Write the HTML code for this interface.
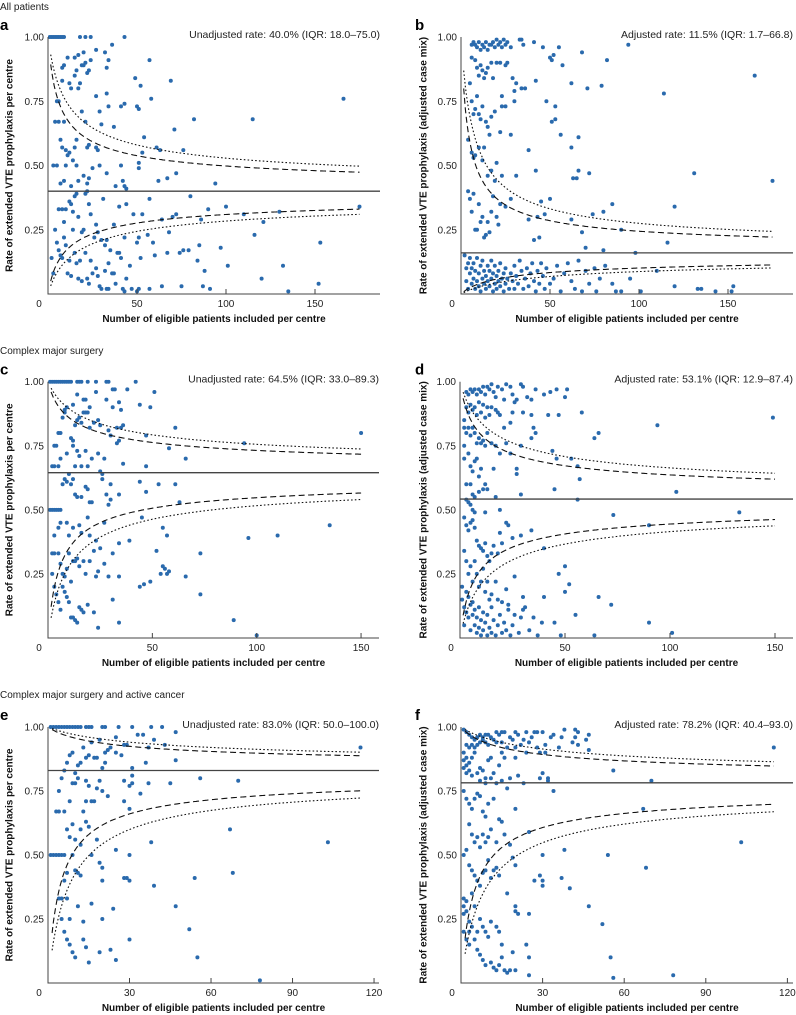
<!DOCTYPE html>
<html><head><meta charset="utf-8">
<style>
html,body{margin:0;padding:0;background:#fff;}
svg{display:block;font-family:"Liberation Sans",sans-serif;}
.tk{font-size:10px;fill:#222;}
.tt{font-size:10px;font-weight:bold;fill:#111;}
.hd{font-size:10px;fill:#222;}
.lt{font-size:15px;font-weight:bold;fill:#000;}
.an{font-size:10.5px;fill:#222;}
</style></head>
<body>
<svg id="fig" width="796" height="1015" viewBox="0 0 796 1015">
<text class="hd" x="0" y="10">All patients</text>
<text class="hd" x="0" y="354">Complex major surgery</text>
<text class="hd" x="0" y="698">Complex major surgery and active cancer</text>
</svg>
<script>
const ptsA=[[1,1],[2,1],[3,1],[4,1],[5,1],[6,1],[7,1],[8,1],[9,1],[18,1],[21,1],[24,1],[43,1],[27,.95],[32,.94],[36,.97],[34,.91],[57,.91],[20,.94],[19,.89],[20,.89],[15,.92],[17,.93],[11,.92],[8,.88],[9,.89],[12,.82],[13,.80],[15,.85],[16,.87],[17,.80],[18,.82],[21,.90],[22,.86],[23,.87],[24,.91],[27,.77],[29,.71],[33,.88],[33,.78],[34,.73],[37,.65],[41,.73],[43,.74],[49,.84],[50,.73],[51,.72],[52,.81],[58,.76],[69,.83],[71,.64],[76,.56],[82,.68],[115,.68],[166,.76],[54,.61],[61,.57],[5,.75],[6,.75],[8,.83],[9,.67],[4,.67],[3,.5],[5,.5],[6,.67],[7,.6],[8,.57],[10,.56],[11,.54],[12,.55],[14,.52],[15,.57],[16,.6],[19,.71],[21,.67],[22,.57],[23,.58],[25,.49],[27,.57],[28,.56],[29,.5],[30,.66],[33,.47],[38,.42],[41,.5],[42,.44],[43,.42],[44,.41],[51,.51],[51,.49],[53,.55],[57,.37],[62,.44],[63,.56],[67,.45],[72,.47],[94,.43],[7,.43],[9,.44],[10,.5],[13,.42],[16,.5],[17,.44],[20,.46],[22,.43],[23,.45],[6,.33],[8,.33],[9,.28],[10,.33],[12,.36],[13,.35],[14,.32],[15,.38],[16,.39],[17,.3],[19,.24],[20,.25],[21,.39],[22,.4],[23,.35],[24,.31],[26,.22],[27,.27],[28,.24],[30,.21],[31,.37],[32,.19],[33,.21],[34,.12],[35,.17],[37,.27],[39,.16],[40,.34],[41,.14],[43,.22],[44,.35],[46,.11],[48,.31],[50,.2],[51,.22],[52,.14],[53,.31],[56,.23],[59,.2],[60,.15],[64,.29],[67,.16],[68,.24],[70,.3],[72,.31],[74,.16],[76,.17],[79,.17],[80,.38],[84,.13],[85,.19],[86,.29],[88,.09],[90,.33],[97,.18],[100,.34],[101,.11],[110,.31],[116,.23],[120,.06],[121,.28],[130,.32],[132,.11],[135,.01],[152,.04],[153,.2],[175,.34],[4,.25],[5,.2],[6,.17],[7,.15],[8,.14],[9,.22],[10,.19],[11,.08],[12,.13],[13,.07],[14,.25],[15,.16],[16,.12],[17,.06],[18,.13],[19,.05],[21,.16],[22,.06],[23,.04],[24,.13],[25,.08],[27,.1],[28,.07],[29,.03],[30,.02],[32,.09],[33,.02],[34,.02],[36,.08],[37,.08],[38,.04],[40,.16],[42,.02],[43,.01],[44,.06],[47,.02],[50,.01],[51,.02],[57,.02],[64,.03],[75,.03],[87,.03],[91,.02],[2,.14],[3,.08]];
const ptsB=[[6,.97],[7,.98],[8,.97],[9,.96],[10,.98],[11,.95],[12,.97],[13,.96],[14,.98],[15,.95],[16,.97],[17,.97],[18,.98],[19,.96],[20,.99],[21,.97],[22,.98],[23,.96],[24,.99],[25,.97],[26,.98],[28,.96],[33,.99],[34,.99],[35,.97],[41,.98],[46,.96],[50,.92],[51,.91],[52,.93],[55,.96],[57,.89],[68,.94],[82,.91],[94,.97],[6,.92],[8,.91],[9,.88],[10,.85],[11,.89],[12,.87],[13,.84],[14,.86],[15,.88],[17,.9],[18,.84],[20,.9],[22,.9],[23,.77],[25,.89],[26,.9],[29,.84],[30,.79],[31,.82],[34,.8],[36,.8],[42,.83],[62,.82],[71,.8],[79,.81],[165,.85],[114,.78],[5,.82],[6,.75],[7,.7],[8,.72],[9,.77],[10,.7],[11,.68],[12,.73],[14,.67],[15,.65],[16,.62],[17,.69],[19,.71],[22,.63],[23,.73],[25,.73],[28,.62],[30,.75],[48,.75],[51,.67],[53,.73],[53,.68],[56,.62],[62,.57],[66,.61],[4,.6],[6,.55],[7,.53],[8,.54],[10,.57],[12,.52],[13,.57],[15,.46],[17,.48],[19,.44],[20,.51],[23,.46],[31,.46],[38,.56],[42,.48],[50,.37],[63,.45],[65,.45],[66,.48],[72,.47],[131,.47],[175,.44],[120,.34],[85,.35],[4,.4],[5,.37],[6,.32],[7,.39],[8,.25],[9,.25],[10,.35],[11,.28],[12,.3],[13,.22],[14,.23],[15,.28],[16,.24],[17,.32],[18,.38],[20,.3],[21,.27],[22,.35],[25,.34],[28,.37],[38,.29],[41,.21],[43,.3],[44,.22],[45,.36],[47,.31],[62,.29],[68,.24],[74,.31],[80,.32],[90,.25],[98,.16],[116,.2],[70,.18],[80,.17],[2,.15],[3,.1],[3,.05],[4,.12],[4,.02],[5,.08],[5,.14],[6,.04],[6,.1],[7,.06],[7,.12],[8,.02],[8,.09],[9,.05],[9,.14],[10,.03],[10,.08],[11,.11],[11,.01],[12,.06],[12,.13],[13,.04],[13,.09],[14,.02],[14,.07],[15,.11],[15,.05],[16,.03],[16,.09],[17,.13],[17,.06],[18,.01],[18,.08],[19,.04],[19,.11],[20,.07],[20,.02],[21,.09],[21,.05],[22,.03],[22,.12],[23,.06],[24,.01],[24,.08],[25,.04],[25,.1],[26,.06],[27,.02],[28,.08],[29,.05],[30,.11],[30,.02],[31,.07],[32,.04],[33,.13],[34,.09],[35,.02],[36,.06],[37,.1],[38,.03],[39,.08],[40,.12],[41,.05],[42,.01],[43,.09],[44,.04],[45,.12],[46,.07],[47,.02],[48,.1],[50,.04],[52,.06],[54,.11],[56,.01],[58,.08],[60,.12],[62,.05],[64,.02],[66,.13],[68,.01],[70,.09],[72,.04],[75,.1],[76,.01],[78,.06],[81,.11],[85,.04],[87,.01],[90,.01],[95,.06],[101,.01],[110,.09],[120,.03],[133,.02],[135,.02],[143,.01],[152,.01],[153,.03]];
const ptsC=[[1,1],[2,1],[3,1],[4,1],[5,1],[6,1],[7,1],[8,1],[9,1],[10,1],[11,1],[14,1],[15,1],[16,1],[19,1],[23,1],[28,1],[29,1],[42,1],[31,.97],[32,.97],[38,.97],[51,.96],[14,.95],[23,.96],[28,.93],[34,.92],[44,.91],[49,.9],[31,.9],[35,.89],[20,.9],[8,.89],[9,.9],[12,.91],[17,.93],[18,.93],[19,.88],[24,.85],[25,.83],[29,.81],[30,.79],[33,.82],[35,.82],[36,.83],[6,.8],[5,.8],[7,.86],[8,.88],[13,.83],[14,.85],[15,.86],[16,.84],[17,.88],[18,.88],[12,.77],[22,.84],[20,.82],[6,.7],[3,.75],[4,.75],[9,.72],[11,.78],[12,.75],[13,.67],[14,.73],[15,.71],[16,.67],[18,.73],[19,.67],[21,.7],[24,.72],[25,.65],[26,.64],[27,.7],[33,.76],[34,.77],[36,.68],[47,.79],[47,.67],[58,.74],[61,.82],[66,.7],[94,.76],[150,.8],[2,.67],[3,.67],[5,.67],[7,.6],[8,.62],[9,.61],[10,.64],[11,.6],[12,.62],[13,.56],[14,.55],[16,.55],[18,.59],[19,.58],[20,.53],[21,.53],[26,.62],[28,.56],[29,.52],[30,.6],[30,.54],[34,.56],[44,.61],[47,.57],[53,.6],[61,.6],[63,.53],[1,.5],[2,.5],[3,.5],[4,.5],[5,.5],[6,.5],[45,.47],[55,.43],[57,.4],[96,.39],[110,.4],[135,.44],[3,.4],[5,.43],[6,.45],[9,.45],[10,.4],[12,.43],[15,.44],[16,.41],[19,.47],[20,.4],[23,.38],[25,.35],[27,.45],[31,.33],[34,.37],[39,.38],[52,.34],[57,.25],[55,.28],[56,.27],[73,.33],[66,.24],[2,.33],[3,.33],[5,.33],[6,.29],[7,.25],[8,.24],[9,.27],[10,.33],[11,.22],[12,.3],[13,.3],[14,.31],[15,.28],[17,.3],[18,.25],[20,.3],[22,.34],[23,.24],[24,.26],[27,.29],[29,.24],[34,.24],[44,.2],[46,.21],[49,.22],[54,.25],[58,.26],[73,.17],[2,.25],[3,.2],[4,.17],[5,.14],[6,.11],[7,.2],[8,.18],[9,.16],[10,.14],[11,.08],[12,.08],[13,.07],[14,.06],[15,.12],[16,.11],[17,.1],[19,.13],[22,.1],[24,.04],[31,.15],[34,.06],[89,.07],[100,.01]];
const ptsD=[[3,.96],[4,.95],[5,.97],[6,.96],[7,.97],[8,.95],[9,.97],[10,.96],[11,.98],[12,.95],[13,.98],[14,.97],[15,.99],[16,.96],[17,.94],[18,.98],[20,.97],[21,.93],[22,.99],[24,.98],[25,.95],[29,.99],[30,.98],[32,.94],[34,.93],[36,.97],[40,.95],[43,.96],[46,.97],[50,.94],[51,.97],[3,.9],[4,.88],[5,.91],[6,.89],[7,.9],[8,.87],[9,.92],[10,.88],[11,.91],[12,.86],[13,.9],[14,.87],[15,.9],[17,.89],[18,.88],[19,.87],[21,.82],[24,.84],[25,.88],[26,.92],[27,.93],[30,.88],[34,.87],[42,.87],[58,.88],[47,.87],[64,.78],[66,.8],[94,.83],[149,.86],[2,.85],[2,.82],[3,.8],[4,.82],[5,.79],[6,.82],[7,.8],[8,.76],[9,.78],[10,.76],[11,.77],[12,.75],[13,.8],[15,.76],[17,.75],[19,.72],[22,.76],[24,.72],[29,.75],[34,.78],[35,.82],[36,.8],[44,.73],[46,.7],[53,.7],[56,.67],[57,.62],[2,.75],[2,.7],[4,.72],[5,.67],[6,.65],[7,.69],[8,.7],[9,.63],[10,.66],[12,.6],[13,.58],[16,.66],[27,.66],[27,.64],[45,.58],[56,.54],[103,.57],[3,.6],[5,.6],[6,.56],[7,.55],[9,.57],[11,.58],[17,.55],[29,.56],[3,.54],[4,.53],[5,.52],[6,.5],[7,.49],[12,.49],[19,.5],[2,.47],[3,.44],[4,.42],[5,.45],[6,.46],[7,.43],[8,.38],[9,.36],[10,.35],[11,.34],[12,.37],[13,.32],[14,.3],[15,.33],[16,.36],[18,.33],[19,.41],[20,.37],[22,.45],[23,.44],[25,.39],[29,.4],[34,.42],[40,.35],[73,.48],[90,.44],[133,.49],[2,.34],[3,.3],[4,.25],[5,.28],[6,.22],[7,.3],[8,.25],[9,.2],[10,.22],[11,.27],[12,.18],[13,.22],[14,.15],[15,.17],[17,.22],[18,.15],[20,.14],[22,.19],[23,.13],[26,.24],[30,.11],[30,.16],[40,.16],[47,.25],[50,.28],[50,.18],[52,.21],[55,.09],[66,.16],[72,.13],[90,.06],[101,.02],[1,.2],[1,.15],[2,.12],[2,.05],[3,.18],[3,.1],[4,.16],[4,.08],[5,.13],[5,.03],[6,.09],[6,.14],[7,.05],[7,.11],[8,.02],[8,.08],[9,.12],[9,.04],[10,.07],[10,.01],[11,.1],[11,.03],[12,.06],[13,.01],[13,.09],[14,.04],[15,.12],[15,.02],[16,.07],[17,.01],[18,.05],[19,.09],[20,.02],[21,.06],[22,.03],[23,.11],[24,.01],[25,.05],[26,.09],[28,.02],[29,.08],[31,.12],[33,.03],[35,.08],[37,.01],[39,.06],[45,.06],[48,.01],[64,.01]];
const ptsE=[[1,1],[2,1],[3,1],[4,1],[5,1],[6,1],[7,1],[8,1],[9,1],[10,1],[11,1],[12,1],[14,1],[15,1],[16,1],[20,1],[21,1],[26,1],[31,1],[33,.97],[35,.97],[38,1],[42,1],[47,.98],[39,.95],[43,.93],[37,.92],[25,.96],[23,.92],[22,.91],[21,.9],[28,.93],[29,.93],[27,.89],[19,.95],[16,.94],[15,.89],[13,.92],[14,.88],[12,.86],[11,.85],[10,.82],[9,.9],[8,.89],[7,.86],[6,.83],[17,.88],[18,.88],[21,.86],[20,.84],[31,.84],[31,.81],[36,.86],[47,.87],[115,.92],[11,.8],[10,.78],[9,.78],[5,.8],[4,.75],[14,.79],[15,.77],[18,.76],[19,.79],[20,.75],[22,.73],[25,.9],[28,.79],[30,.77],[31,.78],[34,.74],[37,.78],[45,.78],[56,.8],[70,.79],[28,.71],[30,.68],[8,.71],[14,.71],[16,.71],[17,.71],[3,.67],[4,.67],[6,.67],[13,.67],[7,.6],[9,.62],[12,.6],[15,.61],[14,.63],[16,.5],[18,.56],[8,.57],[10,.56],[12,.54],[25,.52],[38,.55],[67,.6],[103,.55],[1,.5],[2,.5],[3,.5],[4,.5],[5,.5],[6,.5],[9,.5],[30,.5],[19,.47],[20,.45],[20,.4],[7,.43],[10,.44],[11,.43],[12,.42],[28,.41],[29,.41],[30,.4],[39,.38],[54,.41],[68,.43],[4,.33],[5,.33],[6,.4],[7,.33],[11,.3],[16,.31],[24,.29],[47,.3],[5,.25],[8,.25],[13,.24],[20,.25],[6,.2],[7,.17],[8,.15],[9,.12],[10,.1],[13,.17],[14,.14],[15,.08],[19,.12],[23,.13],[25,.09],[30,.17],[52,.21],[55,.1],[78,.01]];
const ptsF=[[1,.99],[2,.98],[3,.97],[4,.96],[5,.95],[6,.96],[7,.97],[8,.96],[9,.97],[10,.97],[11,.96],[13,.98],[14,.97],[15,.98],[16,.98],[20,.98],[21,.97],[24,.98],[27,.98],[28,.98],[30,.98],[34,.97],[38,.99],[42,.99],[43,.98],[47,.97],[46,.95],[42,.96],[37,.96],[33,.96],[26,.96],[25,.94],[23,.95],[19,.95],[18,.96],[2,.93],[3,.92],[4,.93],[5,.92],[6,.93],[7,.94],[8,.95],[9,.94],[10,.93],[12,.95],[13,.94],[15,.94],[17,.92],[20,.92],[22,.93],[28,.92],[29,.9],[31,.9],[36,.92],[43,.93],[47,.91],[41,.94],[31,.93],[1,.9],[1,.87],[1,.84],[2,.88],[2,.85],[2,.82],[3,.86],[3,.83],[4,.88],[4,.81],[5,.9],[6,.82],[7,.84],[8,.83],[9,.8],[10,.87],[11,.88],[12,.82],[14,.85],[15,.9],[16,.88],[18,.8],[20,.88],[21,.81],[24,.9],[29,.8],[30,.82],[32,.8],[32,.79],[56,.83],[70,.79],[115,.92],[7,.79],[9,.78],[11,.8],[13,.78],[15,.79],[17,.76],[23,.78],[1,.75],[2,.72],[3,.7],[4,.68],[5,.72],[6,.74],[7,.73],[8,.67],[9,.65],[10,.7],[12,.72],[14,.64],[15,.63],[20,.68],[34,.75],[67,.68],[3,.62],[4,.58],[5,.55],[6,.57],[7,.53],[8,.58],[9,.55],[10,.57],[11,.6],[13,.55],[16,.58],[18,.54],[19,.49],[20,.46],[25,.59],[30,.5],[38,.52],[54,.5],[68,.45],[103,.55],[1,.5],[2,.52],[3,.46],[4,.44],[5,.42],[6,.4],[7,.38],[8,.43],[9,.44],[10,.48],[11,.41],[12,.44],[13,.45],[14,.42],[27,.4],[29,.42],[30,.4],[30,.38],[37,.41],[40,.37],[47,.3],[17,.35],[1,.33],[1,.3],[1,.27],[2,.32],[2,.28],[3,.24],[3,.2],[4,.35],[4,.22],[5,.17],[5,.3],[6,.2],[6,.13],[7,.25],[7,.11],[8,.22],[8,.09],[9,.2],[9,.07],[10,.18],[11,.08],[12,.06],[13,.05],[14,.2],[14,.07],[15,.1],[15,.15],[16,.05],[17,.04],[18,.05],[20,.05],[20,.3],[20,.28],[21,.27],[19,.12],[24,.15],[25,.27],[25,.1],[25,.03],[52,.23],[55,.1],[56,.02],[78,.03],[11,.24],[13,.22],[1,.2],[2,.17],[3,.15]];
const centreRates=[0.40,0.16,0.645,0.542,0.83,0.782];
const maxN=[175,175,150,150,115,115];
const xTicksAB=[0,50,100,150];
const xTicksCD=[0,50,100,150];
const xTicksEF=[0,30,60,90,120];
const yTicks=[0.25,0.50,0.75,1.00];
const annotations=["Unadjusted rate: 40.0% (IQR: 18.0–75.0)","Adjusted rate: 11.5% (IQR: 1.7–66.8)","Unadjusted rate: 64.5% (IQR: 33.0–89.3)","Adjusted rate: 53.1% (IQR: 12.9–87.4)","Unadjusted rate: 83.0% (IQR: 50.0–100.0)","Adjusted rate: 78.2% (IQR: 40.4–93.0)"];

const NS='http://www.w3.org/2000/svg';
const svg=document.getElementById('fig');
function mk(tag,attrs,parent){const e=document.createElementNS(NS,tag);for(const k in attrs)e.setAttribute(k,attrs[k]);(parent||svg).appendChild(e);return e;}
function wilson(p,n,z,sgn){const z2=z*z;const den=1+z2/n;const c=(p+z2/(2*n))/den;const h=z*Math.sqrt(p*(1-p)/n+z2/(4*n*n))/den;return c+sgn*h;}

const layout=[
 {id:'a',ox:48,xs:1.78,xe:380,yb:294,yt:37,lx:0,ty:9,pts:ptsA,ticks:xTicksAB,yt2:'Rate of extended VTE prophylaxis per centre'},
 {id:'b',ox:461,xs:1.78,xe:793,yb:294,yt:37,lx:415,ty:423,pts:ptsB,ticks:xTicksAB,yt2:'Rate of extended VTE prophylaxis (adjusted case mix)'},
 {id:'c',ox:48,xs:2.087,xe:379,yb:638,yt:381.7,lx:0,ty:9,pts:ptsC,ticks:xTicksCD,yt2:'Rate of extended VTE prophylaxis per centre'},
 {id:'d',ox:460,xs:2.1,xe:793,yb:638,yt:381.7,lx:415,ty:423,pts:ptsD,ticks:xTicksCD,yt2:'Rate of extended VTE prophylaxis (adjusted case mix)'},
 {id:'e',ox:48,xs:2.717,xe:379,yb:983,yt:727,lx:0,ty:9,pts:ptsE,ticks:xTicksEF,yt2:'Rate of extended VTE prophylaxis per centre'},
 {id:'f',ox:461,xs:2.72,xe:793,yb:983,yt:727,lx:415,ty:423,pts:ptsF,ticks:xTicksEF,yt2:'Rate of extended VTE prophylaxis (adjusted case mix)'}
];

layout.forEach((L,i)=>{
 const g=mk('g',{});
 
 
 const X=n=>L.ox+n*L.xs;
 const Y=r=>L.yb-r*(L.yb-L.yt);
 const cp=mk('clipPath',{id:'clip'+L.id},g);
 mk('rect',{x:L.ox,y:L.yt-2,width:L.xe-L.ox,height:L.yb-L.yt+2},cp);
 const lt=mk('text',{class:'lt',x:L.lx,y:L.yt-7},g);lt.textContent=L.id;
 
 
 const an=mk('text',{class:'an',x:L.xe,y:L.yt+1,'text-anchor':'end'},g);an.textContent=annotations[i];
 
 
 const pg=mk('g',{'clip-path':'url(#clip'+L.id+')'},g);
 
 
 L.pts.forEach(p=>{const c=mk('circle',{cx:X(p[0]).toFixed(1),cy:Y(p[1]).toFixed(1),r:2,fill:'#2a6aad'},pg);
  
  });
 const p=centreRates[i];
 [[1.96,'6,3.5','95-limit'],[2.576,'1.6,2.2','99-limit']].forEach(z=>{
  [1,-1].forEach(sgn=>{
   let d='';
   for(let n=1.5;n<=maxN[i];n+=0.5){const v=wilson(p,n,z[0],sgn);
    if(v<0||v>1){continue;}
    d+=(d?'L':'M')+X(n).toFixed(1)+','+Y(v).toFixed(1);}
   const pl=mk('path',{d:d,fill:'none',stroke:'#111','stroke-width':1.1,'stroke-dasharray':z[1],'clip-path':'url(#clip'+L.id+')'},g);
   
   
  });
 });
 const cl=mk('line',{x1:L.ox,x2:L.xe,y1:Y(p),y2:Y(p),stroke:'#444','stroke-width':1.3},g);
 
 
 const ax=mk('path',{d:`M${L.ox},${L.yt}V${L.yb}H${L.xe}`,fill:'none',stroke:'#444','stroke-width':1},g);
 
 
 L.ticks.forEach(t=>{
  if(t>0){const tl=mk('line',{x1:X(t),x2:X(t),y1:L.yb,y2:L.yb-5,stroke:'#444'},g);
   
   }
  const tx=mk('text',{class:'tk',x:t===0?L.ox-9:X(t),y:L.yb+13,'text-anchor':'middle'},g);tx.textContent=t;
  
  
 });
 yTicks.forEach(t=>{
  const ty=mk('text',{class:'tk',x:L.ox-4,y:Y(t)+3.5,'text-anchor':'end'},g);ty.textContent=t.toFixed(2);
  
  
 });
 const xt=mk('text',{class:'tt',x:(L.ox+L.xe)/2,y:L.yb+28,'text-anchor':'middle'},g);
 xt.textContent='Number of eligible patients included per centre';
 
 
 const cy=(L.yt+L.yb)/2;
 const yt=mk('text',{class:'tt',x:L.ty,y:cy,'text-anchor':'middle',transform:`rotate(-90 ${L.ty} ${cy})`,dy:'3.5'},g);
 yt.textContent=L.yt2;
 
 
});
</script>
</body></html>
